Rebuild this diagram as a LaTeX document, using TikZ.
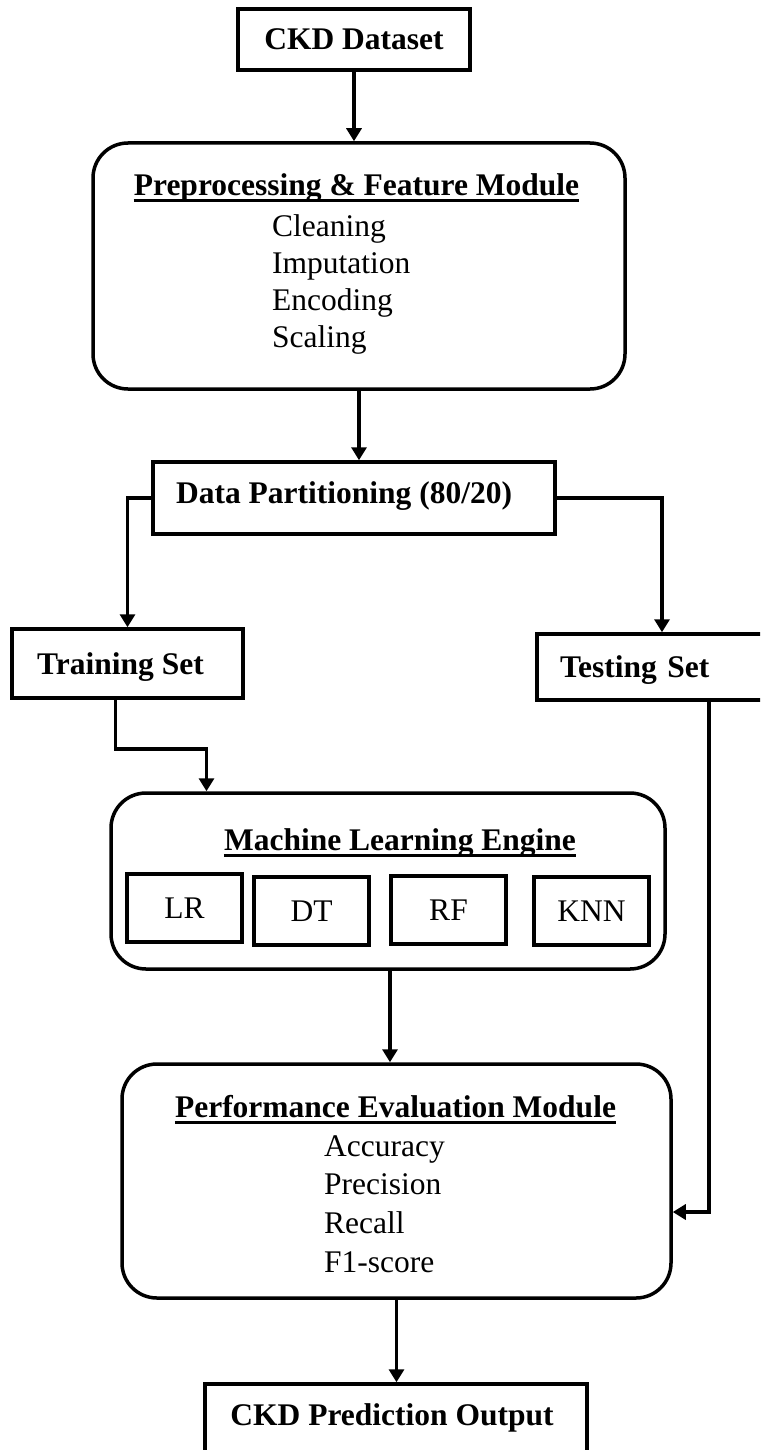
\documentclass[tikz,border=0pt]{standalone}
\usepackage{fontspec}
\setmainfont{Liberation Serif}
\usepackage{tikz}
\usetikzlibrary{positioning, arrows.meta, calc}

\newcommand{\diagfont}{\fontsize{31.5}{38}\selectfont}

\tikzset{
  blockbox/.style={draw, line width=3.5pt, inner sep=0pt, font=\diagfont\bfseries, text height=21pt, text depth=0pt},
  modulebox/.style={draw, line width=3.5pt, rounded corners=35pt},
  algobox/.style={draw, line width=3.5pt, inner sep=0pt, minimum width=115pt, minimum height=68pt, font=\diagfont, text height=21pt, text depth=0pt},
  headtext/.style={inner sep=0pt, anchor=base, font=\diagfont\bfseries},
  itemtext/.style={inner sep=0pt, anchor=base west, font=\diagfont},
  flowarrow/.style={line width=3.5pt, -{Triangle[length=13pt,width=15pt]}},
  underrule/.style={line width=3pt},
}

\begin{document}
\begin{tikzpicture}[x=1pt, y=-1pt]
  \useasboundingbox (0,0) rectangle (760,1450);
  \clip (0,0) rectangle (760,1450);

  % input and preprocessing
  \node[blockbox, minimum width=232pt, minimum height=61pt] (dataset) at (354,39.5) {CKD Dataset};
  \node[modulebox, minimum width=532pt, minimum height=246pt] (prep) at (359,266) {};
  \node[headtext] (preptitle) at (356.5,196) {Preprocessing \& Feature Module};
  \foreach \step [count=\k] in {Cleaning, Imputation, Encoding, Scaling}
    \node[itemtext] (prepitem\k) at (272,{236+37.3*(\k-1)}) {\step};

  % split
  \node[blockbox, minimum width=402pt, minimum height=72pt, text depth=11pt] (part) at (354,498) {Data Partitioning (80/20)\hspace*{20pt}};
  \node[blockbox, minimum width=231pt, minimum height=69pt] (train) at (127.5,663.5) {Training Set\hspace*{14pt}};
  \node[blockbox, minimum width=250pt, minimum height=66pt, text width=204pt, align=left] (test) at (662,667) {Testing Set};

  % models
  \node[modulebox, minimum width=554pt, minimum height=176pt] (ml) at (388,881) {};
  \node[headtext] (mltitle) at (400,850) {Machine Learning Engine};
  \foreach \name/\x/\y in {LR/184.5/908, DT/311.5/911, RF/448.5/910, KNN/591.5/911}
    \node[algobox] (\name) at (\x,\y) {\name};

  % evaluation and output
  \node[modulebox, minimum width=549pt, minimum height=234pt] (perf) at (396.5,1181) {};
  \node[headtext] (perftitle) at (395.5,1117) {Performance Evaluation Module};
  \foreach \metric [count=\k] in {Accuracy, Precision, Recall, F1-score}
    \node[itemtext] (metric\k) at (324,{1156+38.7*(\k-1)}) {\metric};
  \node[blockbox, minimum width=382pt, minimum height=72pt, text depth=11pt] (output) at (396,1420) {CKD Prediction Output\hspace*{8pt}};

  % underlined headings
  \foreach \t in {preptitle, mltitle, perftitle}
    \draw[underrule] ([yshift=-5pt]\t.base west) -- ([yshift=-5pt]\t.base east);

  % connectors
  \coordinate (mlin) at ([xshift=-181.5pt]ml.north);
  \draw[flowarrow] (dataset.south) -- (dataset.south |- prep.north);
  \draw[flowarrow] (prep.south) -- (prep.south |- part.north);
  \draw[flowarrow] (part.west) -| (train.north);
  \draw[flowarrow] (part.east) -| (test.north);
  \draw[flowarrow] ([xshift=-12pt]train.south) -- ++(0,49) -| (mlin);
  \draw[flowarrow] ([xshift=47pt]test.south) |- ([yshift=-31pt]perf.east);
  \draw[flowarrow] ([xshift=2pt]ml.south) -- ([xshift=2pt]ml.south |- perf.north);
  \draw[flowarrow] (perf.south) -- (perf.south |- output.north);
\end{tikzpicture}
\end{document}
